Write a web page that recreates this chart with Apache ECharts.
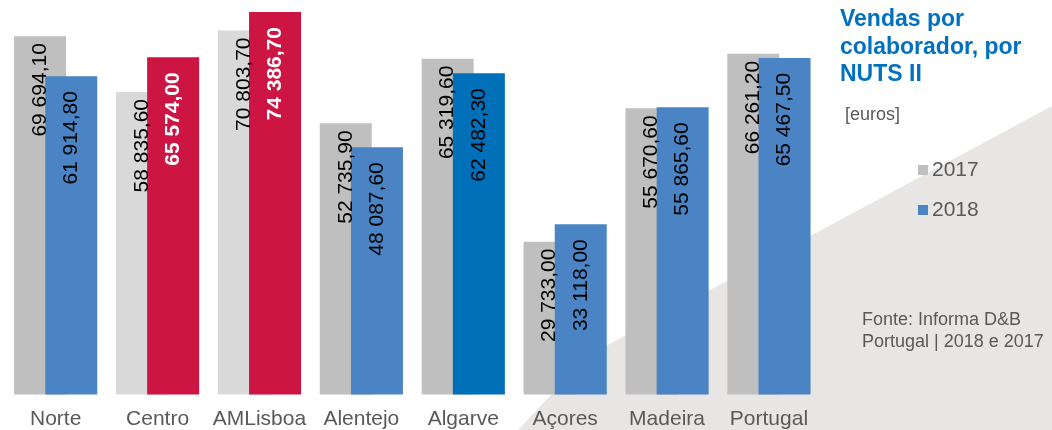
<!DOCTYPE html>
<html>
<head>
<meta charset="utf-8">
<script src="https://cdn.jsdelivr.net/npm/echarts@6/dist/echarts.min.js"></script>
<style>
  html, body { margin: 0; padding: 0; background: #ffffff; }
  #chart { width: 1052px; height: 430px; }
</style>
</head>
<body>
<div id="chart"></div>
<script>
// Regions (NUTS II) and sales per employee, in euros
const categories = ['Norte', 'Centro', 'AMLisboa', 'Alentejo', 'Algarve', 'Açores', 'Madeira', 'Portugal'];
const sales2017 = [69694.10, 58835.60, 70803.70, 52735.90, 65319.60, 29733.00, 55670.60, 66261.20];
const sales2018 = [61914.80, 65574.00, 74386.70, 48087.60, 62482.30, 33118.00, 55865.60, 65467.50];
const seriesNames = ['2017', '2018'];

const FONT = '"Liberation Sans", Arial, sans-serif';
const GREY = '#bfbfbf';
const LIGHT_GREY = '#d9d9d9';
const BLUE = '#4a84c4';
const DARK_BLUE = '#0070b8';
const RED = '#cc1543';

// Highlighted regions
const highlight2017 = { 'Centro': LIGHT_GREY, 'AMLisboa': LIGHT_GREY };
const highlight2018 = { 'Centro': RED, 'AMLisboa': RED, 'Algarve': DARK_BLUE };

// "69 694,10" style numbers
function fmt(v) {
  const parts = v.toFixed(2).split('.');
  const intPart = parts[0].replace(/\B(?=(\d{3})+(?!\d))/g, ' ');
  return intPart + ',' + parts[1];
}

const data2017 = sales2017.map((v, i) => {
  const c = highlight2017[categories[i]];
  return c ? { value: v, itemStyle: { color: c } } : v;
});
const data2018 = sales2018.map((v, i) => {
  const c = highlight2018[categories[i]];
  if (!c) return v;
  const item = { value: v, itemStyle: { color: c } };
  if (c === RED) item.label = { color: '#ffffff', fontWeight: 'bold' };
  return item;
});

const labelBase = {
  show: true,
  rotate: 90,
  align: 'right',
  verticalAlign: 'middle',
  fontFamily: FONT,
  fontSize: 21,
  color: '#000000',
  formatter: p => fmt(p.value)
};

const chart = echarts.init(document.getElementById('chart'));
chart.setOption({
  animation: false,
  backgroundColor: '#ffffff',
  title: {
    text: 'Vendas por\ncolaborador, por\nNUTS II',
    left: 840,
    top: 6,
    padding: 0,
    textStyle: { fontFamily: FONT, fontSize: 23, fontWeight: 'bold', color: '#0070c0', lineHeight: 27.5 }
  },
  legend: {
    data: seriesNames,
    orient: 'vertical',
    left: 918,
    top: 159.5,
    padding: 0,
    itemWidth: 10,
    itemHeight: 10,
    itemGap: 19,
    icon: 'rect',
    textStyle: { fontFamily: FONT, fontSize: 21, color: '#595959', padding: [0, 0, 0, -1] }
  },
  graphic: [
    {
      type: 'polygon',
      z: -10,
      silent: true,
      shape: { points: [[518, 430], [588, 355.5], [1052, 106], [1052, 430]] },
      style: { fill: '#e8e5e5' }
    },
    {
      type: 'text',
      left: 845,
      top: 106,
      style: { text: '[euros]', font: '18px ' + FONT, fill: '#595959' }
    },
    {
      type: 'text',
      left: 862,
      top: 309,
      style: { text: 'Fonte: Informa D&B\nPortugal | 2018 e 2017', font: '18px ' + FONT, fill: '#595959', lineHeight: 22 }
    }
  ],
  grid: { left: 4.7, right: 232.1, top: 0, bottom: 35.5, containLabel: false },
  xAxis: {
    type: 'category',
    data: categories,
    axisLine: { show: false },
    axisTick: { show: false },
    axisLabel: { interval: 0, fontFamily: FONT, fontSize: 21, color: '#595959', margin: 14 }
  },
  yAxis: {
    type: 'value',
    min: 0,
    max: 76730,
    show: false,
    splitLine: { show: false }
  },
  series: [
    {
      name: seriesNames[0],
      type: 'bar',
      data: data2017,
      barWidth: 52,
      barGap: '-40%',
      itemStyle: { color: GREY },
      label: Object.assign({}, labelBase, { position: ['50%', 7] })
    },
    {
      name: seriesNames[1],
      type: 'bar',
      data: data2018,
      barWidth: 52,
      barGap: '-40%',
      itemStyle: { color: BLUE },
      label: Object.assign({}, labelBase, { position: ['50%', 15] })
    }
  ]
});
</script>
</body>
</html>
